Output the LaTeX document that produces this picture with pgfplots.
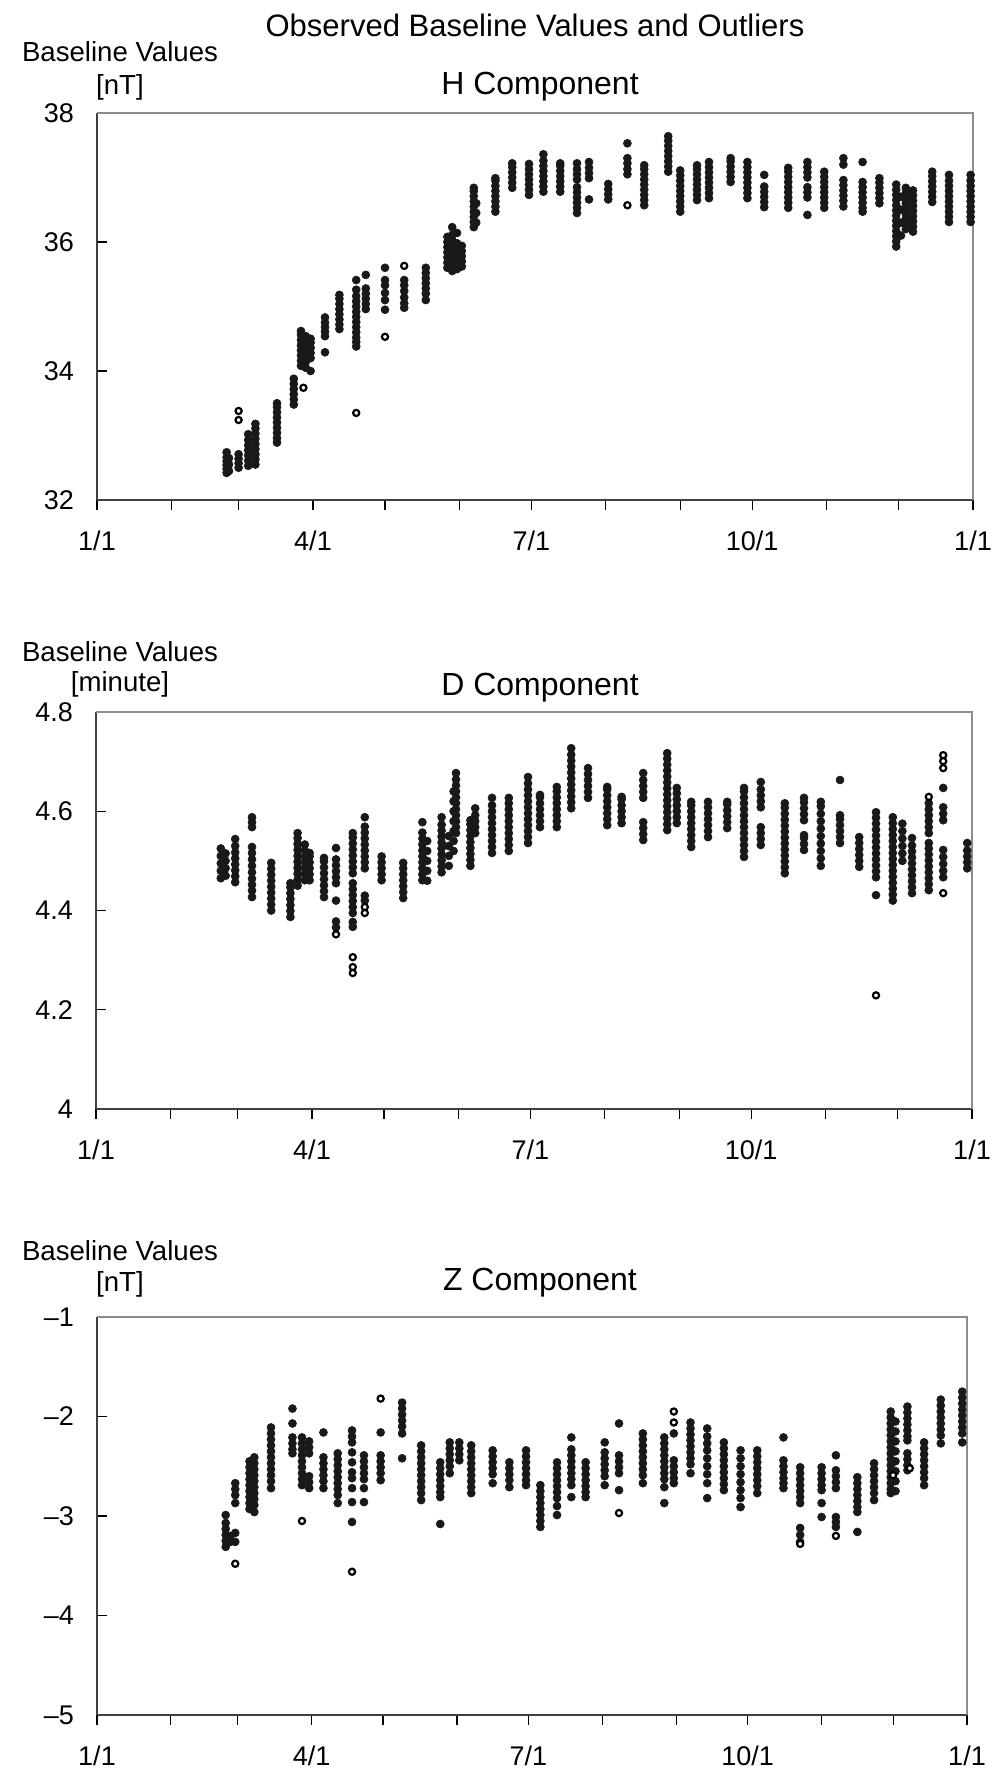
\documentclass[border=0pt]{standalone}
\usepackage{fontspec}
\setmainfont{Liberation Sans}
\usepackage{pgfplots}
\pgfplotsset{compat=1.18}
\pgfplotsset{
 panel/.style={
  scale only axis,
  xmin=0, xmax=365,
  axis x line*=bottom, axis y line*=left,
  axis line style={-, black!75, line width=1pt},
  tick pos=left,
  xtick={0,31,59,90,120,151,181,212,243,273,304,334,365},
  xticklabels={1/1,,,4/1,,,7/1,,,10/1,,,1/1},
  major tick length=5pt,
  tick style={black, line width=0.6pt},
  xtick style={yshift=-5pt},
  ticklabel style={font=\fontsize{13.5}{15}\selectfont},
  xticklabel style={yshift=-12pt},
  yticklabel style={xshift=-8pt},
  clip=false,
 },
 fdot/.style={only marks, mark=*, mark size=2pt, mark options={draw=black!90, fill=black!90, line width=0.3pt}},
 odot/.style={only marks, mark=*, mark size=1.55pt, mark options={draw=black, fill=white, line width=1.1pt}},
}
\begin{document}
\begin{tikzpicture}
\useasboundingbox (0,0) rectangle (498.5pt,-888pt);
% ---------------- H component ----------------
\begin{axis}[panel, at={(48.5pt,-56.5pt)}, anchor=north west, width=438pt, height=193.5pt,
  ymin=32, ymax=38, ytick={32,34,36,38}, yticklabels={32,34,36,38}]
\addplot[fdot] coordinates {
(54,32.42)(54,32.48)(54,32.54)(54,32.60)(54,32.66)(54,32.74)(55,32.45)(55,32.55)(55,32.65)
(59,32.50)(59,32.57)(59,32.64)(59,32.71)
(63,32.53)(63,32.61)(63,32.69)(63,32.77)(63,32.85)(63,32.93)(63,33.02)
(66,32.55)(66,32.63)(66,32.71)(66,32.79)(66,32.87)(66,32.95)(66,33.03)(66,33.11)(66,33.18)
(75,32.89)(75,32.96)(75,33.04)(75,33.12)(75,33.20)(75,33.28)(75,33.36)(75,33.44)(75,33.50)
(82,33.48)(82,33.56)(82,33.64)(82,33.72)(82,33.80)(82,33.88)
(85,34.08)(85,34.16)(85,34.24)(85,34.32)(85,34.40)(85,34.48)(85,34.56)(85,34.62)
(87,34.05)(87,34.14)(87,34.22)(87,34.30)(87,34.38)(87,34.46)(87,34.54)
(89,34.00)(89,34.20)(89,34.28)(89,34.36)(89,34.44)(89,34.50)
(95,34.29)(95,34.54)(95,34.61)(95,34.68)(95,34.75)(95,34.83)
(101,34.65)(101,34.72)(101,34.80)(101,34.88)(101,34.96)(101,35.04)(101,35.12)(101,35.18)
(108,34.38)(108,34.45)(108,34.52)(108,34.60)(108,34.68)(108,34.76)(108,34.84)(108,34.92)(108,35.00)(108,35.08)(108,35.16)(108,35.26)(108,35.41)
(112,34.96)(112,35.04)(112,35.12)(112,35.20)(112,35.28)(112,35.49)
(120,34.95)(120,35.10)(120,35.21)(120,35.33)(120,35.41)(120,35.60)
(128,34.98)(128,35.05)(128,35.14)(128,35.24)(128,35.33)(128,35.41)
(137,35.10)(137,35.20)(137,35.28)(137,35.36)(137,35.44)(137,35.52)(137,35.60)
(146,35.60)(146,35.68)(146,35.76)(146,35.84)(146,35.92)(146,36.00)(146,36.08)
(148,35.55)(148,35.63)(148,35.71)(148,35.79)(148,35.87)(148,35.95)(148,36.03)(148,36.11)(148,36.23)
(150,35.58)(150,35.66)(150,35.74)(150,35.82)(150,35.90)(150,35.98)(150,36.14)
(152,35.62)(152,35.70)(152,35.78)(152,35.86)(152,35.94)
(157,36.23)(157,36.31)(157,36.39)(157,36.47)(157,36.55)(157,36.63)(157,36.71)(157,36.79)(157,36.84)
(158,36.30)(158,36.45)(158,36.60)
(166,36.47)(166,36.55)(166,36.63)(166,36.71)(166,36.79)(166,36.87)(166,36.95)(166,36.99)
(173,36.84)(173,36.92)(173,37.00)(173,37.08)(173,37.16)(173,37.22)
(180,36.73)(180,36.81)(180,36.89)(180,36.97)(180,37.05)(180,37.13)(180,37.21)
(186,36.78)(186,36.86)(186,36.94)(186,37.02)(186,37.10)(186,37.18)(186,37.26)(186,37.36)
(193,36.78)(193,36.86)(193,36.94)(193,37.02)(193,37.10)(193,37.18)(193,37.22)
(200,36.45)(200,36.53)(200,36.61)(200,36.69)(200,36.77)(200,36.85)(200,36.97)(200,37.05)(200,37.13)(200,37.22)
(205,36.66)(205,36.99)(205,37.07)(205,37.15)(205,37.24)
(213,36.66)(213,36.74)(213,36.82)(213,36.90)
(221,37.05)(221,37.13)(221,37.22)(221,37.30)(221,37.53)
(228,36.57)(228,36.65)(228,36.73)(228,36.81)(228,36.89)(228,36.97)(228,37.05)(228,37.13)(228,37.19)
(238,37.09)(238,37.17)(238,37.25)(238,37.33)(238,37.41)(238,37.49)(238,37.57)(238,37.64)
(243,36.47)(243,36.55)(243,36.63)(243,36.71)(243,36.79)(243,36.87)(243,36.95)(243,37.03)(243,37.11)
(250,36.65)(250,36.73)(250,36.81)(250,36.89)(250,36.97)(250,37.05)(250,37.13)(250,37.19)
(255,36.68)(255,36.76)(255,36.84)(255,36.92)(255,37.00)(255,37.08)(255,37.16)(255,37.24)
(264,36.93)(264,37.01)(264,37.09)(264,37.17)(264,37.25)(264,37.30)
(271,36.68)(271,36.76)(271,36.84)(271,36.92)(271,37.00)(271,37.08)(271,37.16)(271,37.24)
(278,36.54)(278,36.62)(278,36.70)(278,36.78)(278,36.86)(278,37.04)
(288,36.53)(288,36.61)(288,36.69)(288,36.77)(288,36.85)(288,36.93)(288,37.01)(288,37.09)(288,37.15)
(296,36.42)(296,36.69)(296,36.77)(296,36.85)(296,37.00)(296,37.08)(296,37.16)(296,37.24)
(303,36.53)(303,36.61)(303,36.69)(303,36.77)(303,36.85)(303,36.93)(303,37.01)(303,37.09)
(311,36.55)(311,36.64)(311,36.72)(311,36.80)(311,36.88)(311,36.96)(311,37.20)(311,37.30)
(319,36.47)(319,36.53)(319,36.61)(319,36.69)(319,36.77)(319,36.85)(319,36.93)(319,37.24)
(326,36.60)(326,36.68)(326,36.76)(326,36.84)(326,36.92)(326,36.99)
(333,35.93)(333,36.01)(333,36.09)(333,36.17)(333,36.25)(333,36.33)(333,36.41)(333,36.49)(333,36.57)(333,36.65)(333,36.73)(333,36.81)(333,36.89)
(335,36.10)(335,36.30)(335,36.50)(335,36.70)
(337,36.20)(337,36.28)(337,36.36)(337,36.44)(337,36.52)(337,36.60)(337,36.68)(337,36.76)(337,36.84)
(340,36.16)(340,36.24)(340,36.32)(340,36.40)(340,36.48)(340,36.56)(340,36.64)(340,36.72)(340,36.80)
(348,36.62)(348,36.70)(348,36.78)(348,36.86)(348,36.94)(348,37.02)(348,37.09)
(355,36.31)(355,36.39)(355,36.47)(355,36.55)(355,36.63)(355,36.71)(355,36.79)(355,36.87)(355,36.95)(355,37.04)
(364,36.31)(364,36.39)(364,36.47)(364,36.55)(364,36.63)(364,36.71)(364,36.79)(364,36.87)(364,36.95)(364,37.04)
};
\addplot[odot] coordinates {(59,33.38)(59,33.24)(86,33.74)(108,33.35)(120,34.53)(128,35.63)(221,36.57)};
\draw[black!45, line width=1pt] (rel axis cs:0,1) -- (rel axis cs:1,1) -- (rel axis cs:1,0);
\end{axis}
% ---------------- D component ----------------
\begin{axis}[panel, at={(48pt,-356pt)}, anchor=north west, width=438pt, height=198.5pt,
  ymin=4, ymax=4.8, ytick={4,4.2,4.4,4.6,4.8}, yticklabels={4,4.2,4.4,4.6,4.8}]
\addplot[fdot] coordinates {
(52,4.465)(52,4.480)(52,4.495)(52,4.510)(52,4.525)(54,4.470)(54,4.485)(54,4.500)(54,4.515)
(58,4.457)(58,4.469)(58,4.481)(58,4.493)(58,4.505)(58,4.517)(58,4.530)(58,4.544)
(65,4.568)(65,4.578)(65,4.588)(65,4.427)(65,4.440)(65,4.452)(65,4.464)(65,4.477)(65,4.490)(65,4.503)(65,4.516)(65,4.528)
(73,4.400)(73,4.412)(73,4.424)(73,4.436)(73,4.448)(73,4.460)(73,4.472)(73,4.484)(73,4.496)
(81,4.387)(81,4.399)(81,4.411)(81,4.423)(81,4.435)(81,4.447)(81,4.455)
(84,4.450)(84,4.462)(84,4.474)(84,4.486)(84,4.498)(84,4.510)(84,4.522)(84,4.534)(84,4.546)(84,4.556)
(87,4.461)(87,4.473)(87,4.485)(87,4.497)(87,4.509)(87,4.521)(87,4.533)
(89,4.461)(89,4.473)(89,4.485)(89,4.497)(89,4.509)(89,4.516)
(95,4.427)(95,4.439)(95,4.451)(95,4.463)(95,4.475)(95,4.487)(95,4.499)(95,4.506)
(100,4.455)(100,4.467)(100,4.479)(100,4.491)(100,4.503)(100,4.526)(100,4.420)(100,4.378)(100,4.366)
(107,4.475)(107,4.487)(107,4.499)(107,4.511)(107,4.523)(107,4.535)(107,4.547)(107,4.556)
(107,4.395)(107,4.407)(107,4.419)(107,4.431)(107,4.443)(107,4.455)(107,4.367)(107,4.377)
(112,4.485)(112,4.497)(112,4.509)(112,4.521)(112,4.533)(112,4.545)(112,4.557)(112,4.569)(112,4.588)(112,4.420)(112,4.430)
(119,4.461)(119,4.473)(119,4.485)(119,4.497)(119,4.509)
(128,4.425)(128,4.437)(128,4.449)(128,4.461)(128,4.473)(128,4.485)(128,4.496)
(136,4.461)(136,4.473)(136,4.485)(136,4.497)(136,4.509)(136,4.521)(136,4.533)(136,4.545)(136,4.557)(136,4.578)
(138,4.460)(138,4.480)(138,4.500)(138,4.520)(138,4.540)
(144,4.477)(144,4.489)(144,4.501)(144,4.513)(144,4.525)(144,4.537)(144,4.549)(144,4.561)(144,4.573)(144,4.588)
(147,4.490)(147,4.510)(147,4.530)(147,4.550)
(149,4.520)(149,4.540)(149,4.560)(149,4.580)(149,4.600)(149,4.620)(149,4.640)
(150,4.556)(150,4.568)(150,4.580)(150,4.592)(150,4.604)(150,4.616)(150,4.628)(150,4.640)(150,4.652)(150,4.664)(150,4.677)
(156,4.490)(156,4.502)(156,4.514)(156,4.526)(156,4.538)(156,4.550)(156,4.562)(156,4.574)(156,4.582)
(158,4.556)(158,4.568)(158,4.580)(158,4.592)(158,4.606)
(165,4.516)(165,4.528)(165,4.540)(165,4.552)(165,4.564)(165,4.576)(165,4.588)(165,4.600)(165,4.612)(165,4.627)
(172,4.520)(172,4.532)(172,4.544)(172,4.556)(172,4.568)(172,4.580)(172,4.592)(172,4.604)(172,4.616)(172,4.627)
(180,4.536)(180,4.548)(180,4.560)(180,4.572)(180,4.584)(180,4.596)(180,4.608)(180,4.620)(180,4.632)(180,4.644)(180,4.656)(180,4.669)
(185,4.568)(185,4.580)(185,4.592)(185,4.604)(185,4.616)(185,4.628)(185,4.633)
(192,4.568)(192,4.580)(192,4.592)(192,4.604)(192,4.616)(192,4.628)(192,4.640)(192,4.649)
(198,4.606)(198,4.618)(198,4.630)(198,4.642)(198,4.654)(198,4.666)(198,4.678)(198,4.690)(198,4.702)(198,4.714)(198,4.727)
(205,4.627)(205,4.639)(205,4.651)(205,4.663)(205,4.675)(205,4.687)
(213,4.572)(213,4.584)(213,4.596)(213,4.608)(213,4.620)(213,4.632)(213,4.644)(213,4.649)
(219,4.576)(219,4.588)(219,4.600)(219,4.612)(219,4.624)(219,4.629)
(228,4.627)(228,4.639)(228,4.651)(228,4.663)(228,4.677)(228,4.542)(228,4.554)(228,4.566)(228,4.578)
(238,4.562)(238,4.574)(238,4.586)(238,4.598)(238,4.610)(238,4.622)(238,4.634)(238,4.646)(238,4.658)(238,4.670)(238,4.682)(238,4.694)(238,4.706)(238,4.717)
(242,4.576)(242,4.588)(242,4.600)(242,4.612)(242,4.624)(242,4.636)(242,4.647)
(248,4.528)(248,4.540)(248,4.552)(248,4.564)(248,4.576)(248,4.588)(248,4.600)(248,4.612)(248,4.619)
(255,4.548)(255,4.560)(255,4.572)(255,4.584)(255,4.596)(255,4.608)(255,4.619)
(263,4.566)(263,4.578)(263,4.590)(263,4.602)(263,4.614)(263,4.619)
(270,4.508)(270,4.520)(270,4.532)(270,4.544)(270,4.556)(270,4.568)(270,4.580)(270,4.592)(270,4.604)(270,4.616)(270,4.628)(270,4.640)(270,4.647)
(277,4.608)(277,4.620)(277,4.632)(277,4.644)(277,4.659)(277,4.532)(277,4.544)(277,4.556)(277,4.568)
(287,4.475)(287,4.487)(287,4.499)(287,4.511)(287,4.523)(287,4.535)(287,4.547)(287,4.559)(287,4.571)(287,4.583)(287,4.595)(287,4.607)(287,4.616)
(295,4.582)(295,4.594)(295,4.606)(295,4.618)(295,4.627)(295,4.522)(295,4.534)(295,4.546)(295,4.552)
(302,4.490)(302,4.505)(302,4.520)(302,4.535)(302,4.550)(302,4.565)(302,4.580)(302,4.595)(302,4.610)(302,4.619)
(310,4.663)(310,4.536)(310,4.548)(310,4.560)(310,4.572)(310,4.584)(310,4.592)
(318,4.488)(318,4.500)(318,4.512)(318,4.524)(318,4.536)(318,4.548)
(325,4.467)(325,4.479)(325,4.491)(325,4.503)(325,4.515)(325,4.527)(325,4.539)(325,4.551)(325,4.563)(325,4.575)(325,4.587)(325,4.598)(325,4.431)
(332,4.420)(332,4.432)(332,4.444)(332,4.456)(332,4.468)(332,4.480)(332,4.492)(332,4.504)(332,4.516)(332,4.528)(332,4.540)(332,4.552)(332,4.564)(332,4.576)(332,4.588)
(336,4.500)(336,4.515)(336,4.530)(336,4.545)(336,4.560)(336,4.575)
(340,4.435)(340,4.447)(340,4.459)(340,4.471)(340,4.483)(340,4.495)(340,4.507)(340,4.519)(340,4.531)(340,4.546)
(347,4.441)(347,4.453)(347,4.465)(347,4.477)(347,4.489)(347,4.501)(347,4.513)(347,4.525)(347,4.536)
(347,4.556)(347,4.568)(347,4.580)(347,4.592)(347,4.604)(347,4.616)
(353,4.647)(353,4.582)(353,4.595)(353,4.608)(353,4.467)(353,4.480)(353,4.494)(353,4.508)(353,4.522)
(363,4.485)(363,4.497)(363,4.509)(363,4.521)(363,4.536)
};
\addplot[odot] coordinates {(100,4.352)(107,4.306)(107,4.286)(107,4.274)(112,4.407)(112,4.395)(325,4.229)(347,4.629)(353,4.713)(353,4.701)(353,4.687)(353,4.435)};
\draw[black!45, line width=1pt] (rel axis cs:0,1) -- (rel axis cs:1,1) -- (rel axis cs:1,0);
\end{axis}
% ---------------- Z component ----------------
\begin{axis}[panel, at={(48.5pt,-658.5pt)}, anchor=north west, width=435pt, height=199pt,
  ymin=-5, ymax=-1, ytick={-5,-4,-3,-2,-1}, yticklabels={–5,–4,–3,–2,–1}]
\addplot[fdot] coordinates {
(54,-3.31)(54,-3.25)(54,-3.19)(54,-3.13)(54,-3.07)(54,-2.99)(56,-3.26)(56,-3.20)
(58,-2.67)(58,-2.73)(58,-2.79)(58,-2.87)(58,-3.17)(58,-3.26)
(64,-2.45)(64,-2.51)(64,-2.57)(64,-2.63)(64,-2.69)(64,-2.75)(64,-2.81)(64,-2.87)(64,-2.93)
(66,-2.41)(66,-2.47)(66,-2.53)(66,-2.59)(66,-2.65)(66,-2.71)(66,-2.77)(66,-2.83)(66,-2.89)(66,-2.96)
(73,-2.11)(73,-2.17)(73,-2.23)(73,-2.29)(73,-2.35)(73,-2.41)(73,-2.47)(73,-2.53)(73,-2.59)(73,-2.65)(73,-2.72)
(82,-1.92)(82,-2.07)(82,-2.21)(82,-2.27)(82,-2.33)(82,-2.37)
(86,-2.21)(86,-2.27)(86,-2.33)(86,-2.39)(86,-2.45)(86,-2.51)(86,-2.57)(86,-2.63)(86,-2.69)
(89,-2.25)(89,-2.31)(89,-2.37)(89,-2.60)(89,-2.66)(89,-2.72)
(95,-2.16)(95,-2.41)(95,-2.47)(95,-2.53)(95,-2.59)(95,-2.65)(95,-2.72)
(101,-2.37)(101,-2.43)(101,-2.49)(101,-2.55)(101,-2.61)(101,-2.67)(101,-2.73)(101,-2.79)(101,-2.87)
(107,-2.14)(107,-2.20)(107,-2.26)(107,-2.36)(107,-2.46)(107,-2.56)(107,-2.62)(107,-2.72)(107,-2.86)(107,-3.06)
(112,-2.39)(112,-2.45)(112,-2.51)(112,-2.57)(112,-2.63)(112,-2.72)(112,-2.86)
(119,-2.16)(119,-2.39)(119,-2.45)(119,-2.51)(119,-2.57)(119,-2.64)
(128,-1.86)(128,-1.92)(128,-1.98)(128,-2.04)(128,-2.10)(128,-2.17)(128,-2.42)
(136,-2.29)(136,-2.35)(136,-2.41)(136,-2.47)(136,-2.53)(136,-2.59)(136,-2.65)(136,-2.71)(136,-2.77)(136,-2.84)
(144,-2.46)(144,-2.52)(144,-2.58)(144,-2.64)(144,-2.70)(144,-2.76)(144,-2.81)(144,-3.08)
(148,-2.26)(148,-2.32)(148,-2.38)(148,-2.44)(148,-2.50)(148,-2.57)
(152,-2.26)(152,-2.32)(152,-2.38)(152,-2.44)
(157,-2.29)(157,-2.35)(157,-2.41)(157,-2.47)(157,-2.53)(157,-2.59)(157,-2.65)(157,-2.71)(157,-2.77)
(166,-2.34)(166,-2.40)(166,-2.46)(166,-2.52)(166,-2.58)(166,-2.67)
(173,-2.46)(173,-2.52)(173,-2.58)(173,-2.64)(173,-2.71)
(180,-2.34)(180,-2.40)(180,-2.46)(180,-2.52)(180,-2.58)(180,-2.64)(180,-2.69)
(186,-2.69)(186,-2.75)(186,-2.81)(186,-2.87)(186,-2.93)(186,-2.99)(186,-3.05)(186,-3.11)
(193,-2.46)(193,-2.52)(193,-2.58)(193,-2.64)(193,-2.70)(193,-2.76)(193,-2.82)(193,-2.90)(193,-2.99)
(199,-2.21)(199,-2.33)(199,-2.39)(199,-2.45)(199,-2.51)(199,-2.57)(199,-2.63)(199,-2.69)(199,-2.81)
(205,-2.46)(205,-2.52)(205,-2.58)(205,-2.64)(205,-2.70)(205,-2.76)(205,-2.81)
(213,-2.26)(213,-2.36)(213,-2.42)(213,-2.48)(213,-2.54)(213,-2.60)(213,-2.69)
(219,-2.07)(219,-2.39)(219,-2.45)(219,-2.51)(219,-2.57)(219,-2.74)
(229,-2.17)(229,-2.23)(229,-2.29)(229,-2.35)(229,-2.41)(229,-2.47)(229,-2.53)(229,-2.59)(229,-2.67)
(238,-2.21)(238,-2.27)(238,-2.33)(238,-2.39)(238,-2.45)(238,-2.51)(238,-2.57)(238,-2.63)(238,-2.71)(238,-2.87)
(242,-2.17)(242,-2.44)(242,-2.50)(242,-2.56)(242,-2.62)(242,-2.67)
(249,-2.06)(249,-2.12)(249,-2.18)(249,-2.24)(249,-2.30)(249,-2.36)(249,-2.42)(249,-2.48)(249,-2.57)
(256,-2.12)(256,-2.20)(256,-2.27)(256,-2.34)(256,-2.42)(256,-2.50)(256,-2.58)(256,-2.67)(256,-2.82)
(263,-2.26)(263,-2.32)(263,-2.38)(263,-2.44)(263,-2.50)(263,-2.56)(263,-2.62)(263,-2.68)(263,-2.74)
(270,-2.34)(270,-2.42)(270,-2.50)(270,-2.58)(270,-2.66)(270,-2.74)(270,-2.82)(270,-2.91)
(277,-2.34)(277,-2.40)(277,-2.46)(277,-2.52)(277,-2.58)(277,-2.64)(277,-2.70)(277,-2.77)
(288,-2.21)(288,-2.44)(288,-2.50)(288,-2.56)(288,-2.62)(288,-2.67)(288,-2.72)
(295,-2.51)(295,-2.57)(295,-2.63)(295,-2.69)(295,-2.75)(295,-2.81)(295,-2.87)(295,-3.12)(295,-3.19)(295,-3.26)
(304,-2.51)(304,-2.57)(304,-2.63)(304,-2.69)(304,-2.74)(304,-2.87)(304,-3.01)
(310,-2.39)(310,-2.54)(310,-2.60)(310,-2.66)(310,-2.72)(310,-3.01)(310,-3.06)(310,-3.11)
(319,-2.61)(319,-2.67)(319,-2.73)(319,-2.79)(319,-2.85)(319,-2.91)(319,-2.96)(319,-3.16)
(326,-2.47)(326,-2.53)(326,-2.59)(326,-2.65)(326,-2.71)(326,-2.77)(326,-2.84)
(333,-1.95)(333,-2.01)(333,-2.07)(333,-2.13)(333,-2.19)(333,-2.25)(333,-2.31)(333,-2.37)(333,-2.43)(333,-2.49)(333,-2.55)(333,-2.61)(333,-2.67)(333,-2.73)(333,-2.77)
(335,-2.05)(335,-2.15)(335,-2.25)(335,-2.35)(335,-2.45)(335,-2.55)(335,-2.65)(335,-2.75)
(340,-1.90)(340,-1.96)(340,-2.02)(340,-2.08)(340,-2.14)(340,-2.20)(340,-2.24)(340,-2.37)(340,-2.43)(340,-2.49)(340,-2.54)
(347,-2.26)(347,-2.32)(347,-2.38)(347,-2.44)(347,-2.50)(347,-2.56)(347,-2.62)(347,-2.69)
(354,-1.83)(354,-1.89)(354,-1.95)(354,-2.01)(354,-2.07)(354,-2.13)(354,-2.19)(354,-2.27)
(363,-1.75)(363,-1.81)(363,-1.87)(363,-1.93)(363,-1.99)(363,-2.05)(363,-2.11)(363,-2.17)(363,-2.26)
};
\addplot[odot] coordinates {(58,-3.48)(86,-3.05)(107,-3.56)(119,-1.82)(219,-2.97)(242,-1.95)(242,-2.06)(295,-3.28)(310,-3.20)(334,-2.59)(341,-2.52)};
\draw[black!45, line width=1pt] (rel axis cs:0,1) -- (rel axis cs:1,1) -- (rel axis cs:1,0);
\end{axis}
% ---------------- texts ----------------
\node[anchor=base, font=\fontsize{15.5}{18}\selectfont] at (267.5pt,-18.5pt) {Observed Baseline Values and Outliers};
\begin{scope}[every node/.style={anchor=base, font=\fontsize{13.8}{16}\selectfont}]
\node at (60pt,-31pt) {Baseline Values};
\node at (60pt,-47.5pt) {[nT]};
\node at (60pt,-330.5pt) {Baseline Values};
\node at (60pt,-345.5pt) {[minute]};
\node at (60pt,-630pt) {Baseline Values};
\node at (60pt,-645.5pt) {[nT]};
\end{scope}
\begin{scope}[every node/.style={anchor=base, font=\fontsize{16}{19}\selectfont}]
\node at (270pt,-47.5pt) {H Component};
\node at (270pt,-347.5pt) {D Component};
\node at (270pt,-645pt) {Z Component};
\end{scope}
\end{tikzpicture}
\end{document}
